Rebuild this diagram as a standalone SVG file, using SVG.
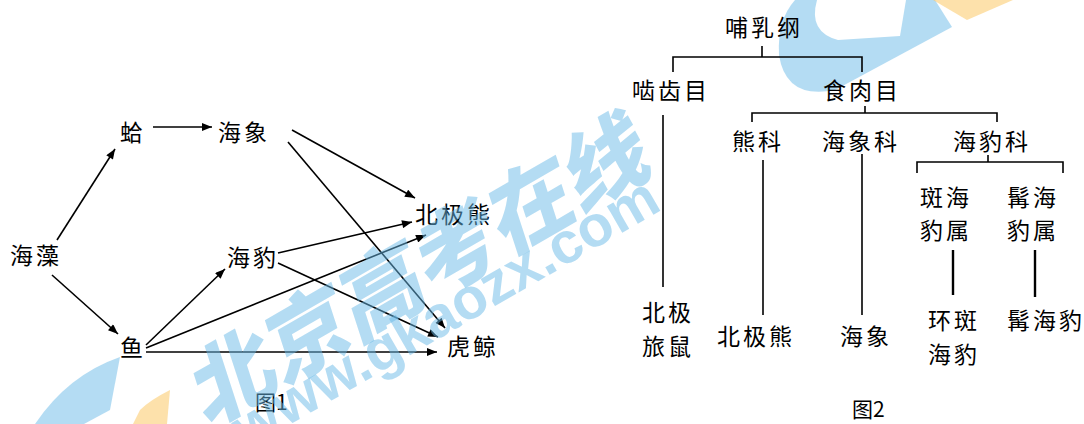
<svg xmlns="http://www.w3.org/2000/svg" width="1084" height="424" viewBox="0 0 1084 424">
<defs>
<style>
.t{font-family:"Noto Sans CJK SC","Liberation Sans",sans-serif;font-size:23px;letter-spacing:3px;fill:#000}
.cap{font-family:"Noto Sans CJK SC","Liberation Sans",sans-serif;font-size:21px;fill:#000}
.e{stroke:#000;stroke-width:1.6;fill:none;marker-end:url(#ah)}
.b{stroke:#000;stroke-width:1.6;fill:none}
.bt{stroke:#000;stroke-width:2.4;fill:none}
.wm{fill:#6ab9e8;fill-opacity:0.5}
.wy{fill:#fbc866;fill-opacity:0.55}
</style>
<marker id="ah" viewBox="0 0 10 8" refX="10" refY="4" markerWidth="11" markerHeight="8" orient="auto" markerUnits="userSpaceOnUse"><path d="M0,0 L10,4 L0,8 Z" fill="#000"/></marker>
</defs>
<rect width="1084" height="424" fill="#fff"/>

<!-- decorative background shapes -->
<g id="decor">
<path class="wm" d="M795,0 L935,0 L952,27 L835,90 Q786,100 779,55 Q777,20 795,0 Z"/>
<path fill="#fff" d="M817,0 Q808,32 838,40 L900,36 L906,0 Z"/>
<path class="wy" d="M933,0 L1013,0 L967,20 Z"/>
<path class="wm" d="M120,357 L110,410 L84,424 L35,424 Q68,375 120,357 Z"/>
<path class="wy" d="M170,390 L167,424 L133,424 L140,410 Q150,400 170,390 Z"/>
</g>

<!-- Figure 1 connectors -->
<g id="connectors-fig1">
<line class="e" x1="153" y1="127" x2="212" y2="127"/>
<line class="e" x1="57" y1="240" x2="115" y2="149"/>
<line class="e" x1="52" y1="275" x2="118" y2="334"/>
<line class="e" x1="146" y1="345" x2="225" y2="269"/>
<line class="e" x1="146" y1="348" x2="426" y2="235"/>
<line class="e" x1="146" y1="352" x2="437" y2="352"/>
<line class="e" x1="278" y1="253" x2="412" y2="222"/>
<line class="e" x1="278" y1="263" x2="438" y2="337"/>
<line class="e" x1="292" y1="130" x2="415" y2="198"/>
<line class="e" x1="288" y1="142" x2="445" y2="328"/>
</g>

<!-- Figure 1 nodes -->
<g id="n-ge"><text class="t" x="120" y="141">蛤</text></g>
<g id="n-haixiang1"><text class="t" x="218" y="141">海象</text></g>
<g id="n-haizao"><text class="t" x="10" y="264">海藻</text></g>
<g id="n-haibao1"><text class="t" x="227" y="266">海豹</text></g>
<g id="n-yu"><text class="t" x="120" y="356">鱼</text></g>
<g id="n-beijixiong1"><text class="t" x="415" y="223">北极熊</text></g>
<g id="n-hujing"><text class="t" x="447" y="355">虎鲸</text></g>
<g id="cap1"><text class="cap" x="255" y="410">图1</text></g>

<!-- Figure 2 connectors -->
<g id="connectors-fig2">
<path class="b" d="M762,46 V57 M673,72 V57 H862 V72"/>
<path class="b" d="M865,106 V113 M752,122 V113 H997 V122"/>
<path class="b" d="M988,155 V162 M917,173 V162 H1063 V173"/>
<line class="b" x1="663" y1="115" x2="663" y2="287"/>
<line class="b" x1="763" y1="160" x2="763" y2="315"/>
<line class="b" x1="862" y1="154" x2="862" y2="315"/>
<line class="bt" x1="953" y1="250" x2="953" y2="295"/>
<line class="bt" x1="1035" y1="250" x2="1035" y2="297"/>
</g>

<!-- Figure 2 nodes -->
<g id="n-buru"><text class="t" x="725" y="36">哺乳纲</text></g>
<g id="n-niechi"><text class="t" x="632" y="99">啮齿目</text></g>
<g id="n-shirou"><text class="t" x="823" y="99">食肉目</text></g>
<g id="n-xiongke"><text class="t" x="732" y="150">熊科</text></g>
<g id="n-haixiangke"><text class="t" x="822" y="150">海象科</text></g>
<g id="n-haibaoke"><text class="t" x="953" y="150">海豹科</text></g>
<g id="n-banhaibaoshu"><text class="t" x="920" y="206">斑海</text><text class="t" x="920" y="239">豹属</text></g>
<g id="n-ranhaibaoshu"><text class="t" x="1007" y="206">髯海</text><text class="t" x="1007" y="239">豹属</text></g>
<g id="n-lvshu"><text class="t" x="642" y="321">北极</text><text class="t" x="642" y="355">旅鼠</text></g>
<g id="n-beijixiong2"><text class="t" x="717" y="345">北极熊</text></g>
<g id="n-haixiang2"><text class="t" x="840" y="345">海象</text></g>
<g id="n-huanban"><text class="t" x="928" y="329">环斑</text><text class="t" x="928" y="363">海豹</text></g>
<g id="n-ranhaibao"><text class="t" x="1007" y="329">髯海豹</text></g>
<g id="cap2"><text class="cap" x="852" y="417">图2</text></g>

<!-- watermark -->
<g id="watermark">
<text class="wm" transform="translate(420,268) rotate(-30) skewX(-12)" x="0" y="32" text-anchor="middle" font-family="Noto Sans CJK SC, sans-serif" font-weight="900" font-size="86">北京高考在线</text>
<text class="wm" transform="translate(445,312) rotate(-30)" x="0" y="20" text-anchor="middle" font-family="Liberation Sans, sans-serif" font-weight="bold" font-size="58">www.gkaozx.com</text>
</g>
</svg>
